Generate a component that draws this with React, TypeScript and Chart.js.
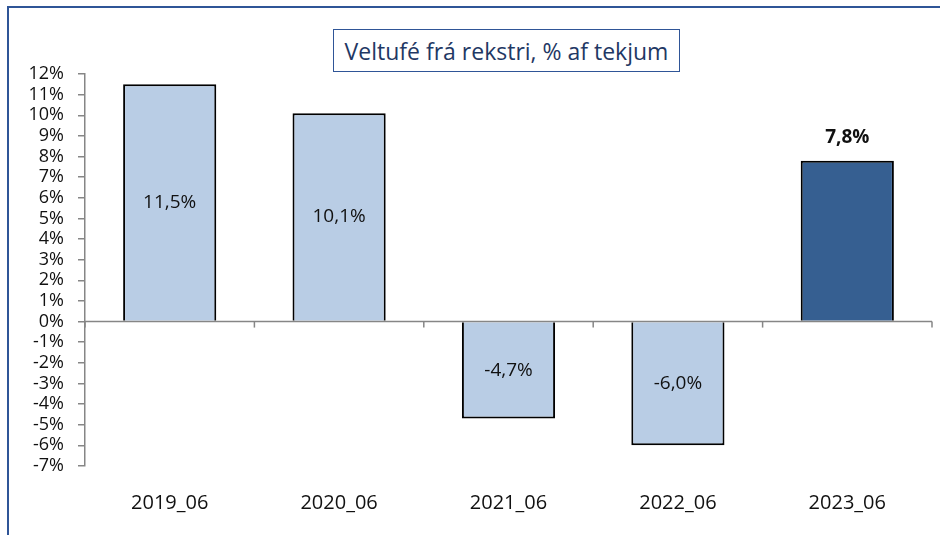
import React, { useEffect, useRef } from "react";
import { Chart, registerables } from "chart.js";

Chart.register(...registerables);

const categories = ["2019_06", "2020_06", "2021_06", "2022_06", "2023_06"];
const values = [11.5, 10.1, -4.7, -6.0, 7.8];
const valueLabels = ["11,5%", "10,1%", "-4,7%", "-6,0%", "7,8%"];
const highlightIndex = 4;
const yMin = -7;
const yMax = 12;
const titleText = "Veltufé frá rekstri, % af tekjum";

const FONT = "'Open Sans', 'Noto Sans', sans-serif";

export default function App() {
  const ref = useRef<HTMLCanvasElement | null>(null);

  useEffect(() => {
    const canvas = ref.current;
    if (!canvas) return;

    const labelPlugin = {
      id: "barLabels",
      afterDatasetsDraw(chart: any) {
        const ctx = chart.ctx;
        const meta = chart.getDatasetMeta(0);
        ctx.save();
        ctx.textAlign = "center";
        ctx.textBaseline = "middle";
        ctx.fillStyle = "#111";
        meta.data.forEach((bar: any, i: number) => {
          if (i === highlightIndex) {
            ctx.font = `bold 19px ${FONT}`;
            ctx.fillText(valueLabels[i], bar.x, bar.y - 23);
          } else {
            ctx.font = `19px ${FONT}`;
            ctx.fillText(valueLabels[i], bar.x, (bar.y + bar.base) / 2);
          }
        });
        ctx.restore();
      },
      afterDraw(chart: any) {
        const ctx = chart.ctx;
        const xs = chart.scales.x;
        const ys = chart.scales.y;
        const y0 = ys.getPixelForValue(0);
        const n = categories.length;
        ctx.save();
        ctx.strokeStyle = "#868686";
        ctx.lineWidth = 1.5;
        ctx.beginPath();
        ctx.moveTo(xs.left, y0);
        ctx.lineTo(xs.right, y0);
        ctx.stroke();
        for (let i = 0; i <= n; i++) {
          const x = xs.left + (i * (xs.right - xs.left)) / n;
          ctx.beginPath();
          ctx.moveTo(x, y0);
          ctx.lineTo(x, y0 + 6);
          ctx.stroke();
        }
        ctx.restore();
      },
    };

    const chart = new Chart(canvas, {
      type: "bar",
      data: {
        labels: categories,
        datasets: [
          {
            data: values,
            backgroundColor: values.map((_, i) => (i === highlightIndex ? "#365f91" : "#b9cde5")),
            borderColor: "#000",
            borderWidth: 2,
            barPercentage: 0.55,
            categoryPercentage: 1,
          },
        ],
      },
      options: {
        animation: false,
        responsive: false,
        maintainAspectRatio: false,
        layout: { padding: { left: 0, right: 8, top: 74, bottom: 0 } },
        plugins: { legend: { display: false }, tooltip: { enabled: false }, title: { display: false } },
        scales: {
          x: {
            grid: { display: false },
            border: { display: false },
            ticks: { color: "#111", font: { family: FONT, size: 20 }, padding: 17 },
            afterFit: (s: any) => {
              s.height = 69;
            },
          },
          y: {
            min: yMin,
            max: yMax,
            ticks: {
              stepSize: 1,
              autoSkip: false,
              color: "#111",
              font: { family: FONT, size: 18, lineHeight: 1 },
              padding: 14,
              callback: (v: any) => `${v}%`,
            },
            grid: {
              drawOnChartArea: false,
              tickColor: "#868686",
              tickLength: 7,
              lineWidth: 1.5,
            },
            border: { display: true, color: "#868686", width: 1.5 },
            afterFit: (s: any) => {
              s.width = 85;
            },
          },
        },
      },
      plugins: [labelPlugin],
    });
    return () => chart.destroy();
  }, []);

  return (
    <div
      style={{
        position: "fixed",
        left: 0,
        top: 0,
        width: 940,
        height: 535,
        overflow: "hidden",
        background: "#fff",
      }}
    >
      <div
        style={{
          position: "absolute",
          left: 7,
          top: 6,
          width: 2000,
          height: 2000,
          borderTop: "2px solid #2f5597",
          borderLeft: "2px solid #2f5597",
        }}
      />
      <canvas ref={ref} width={940} height={535} style={{ position: "absolute", left: 0, top: 0 }} />
      <div
        style={{
          position: "absolute",
          left: 333,
          top: 29,
          width: 347,
          height: 43,
          boxSizing: "border-box",
          border: "1.5px solid #2f5597",
          background: "#fff",
          display: "flex",
          alignItems: "center",
          justifyContent: "center",
          fontFamily: FONT,
          fontSize: 23,
          color: "#1f3864",
          whiteSpace: "nowrap",
        }}
      >
        {titleText}
      </div>
    </div>
  );
}
